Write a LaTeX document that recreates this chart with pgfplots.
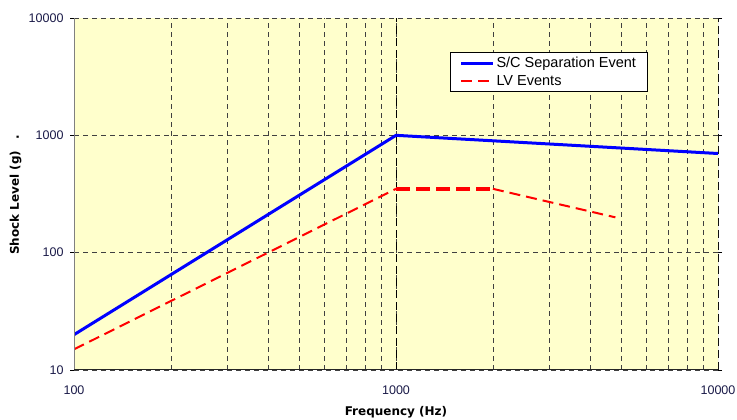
\documentclass[border=0pt]{standalone}
\usepackage{pgfplots}
\pgfplotsset{compat=1.18}
\usepackage{fontspec}
\setmainfont{Liberation Sans}
\newfontfamily\labfont{DejaVu Sans}
\definecolor{bgy}{HTML}{FFFFCC}
\definecolor{gridc}{HTML}{404040}
\definecolor{tickc}{HTML}{1A1A48}
\begin{document}
\begin{tikzpicture}
\path[use as bounding box] (-74pt,-50pt) rectangle (663pt,370pt);
\begin{axis}[
  at={(0pt,0pt)}, anchor=south west,
  scale only axis, width=644pt, height=352pt,
  xmode=log, ymode=log,
  xmin=100, xmax=10000, ymin=10, ymax=10000,
  axis background/.style={fill=bgy},
  axis line style={draw=none},
  xtick={100,1000,10000}, xticklabels={100,1000,10000},
  ytick={10,100,1000,10000}, yticklabels={10,100,1000,10000},
  minor ytick={},
  xmajorgrids, xminorgrids, ymajorgrids,
  major x grid style={black, dash pattern=on 8pt off 4pt, line width=0.6pt},
  minor x grid style={gridc, dash pattern=on 5pt off 4pt, line width=0.6pt},
  major y grid style={gridc, dash pattern=on 5pt off 4pt, line width=0.6pt},
  tick align=outside, major tick length=4pt, minor tick length=0pt,
  tick style={black, line width=0.6pt},
  xtick style={draw=none},
  ticklabel style={font=\fontsize{12.5}{14}\selectfont, text=tickc},
  /pgf/number format/assume math mode=true,
  xticklabel style={yshift=-8pt},
  yticklabel style={xshift=-3pt},
  xlabel={\labfont\bfseries Frequency (Hz)},
  ylabel={\labfont\bfseries Shock Level (g)\hspace{0.9em}.},
  label style={font=\fontsize{12}{14}\selectfont},
  xlabel style={at={(axis description cs:0.5,0)}, anchor=north, yshift=-33pt},
  ylabel style={at={(axis description cs:0,0.5)}, anchor=south, yshift=49pt, xshift=-1pt},
  legend style={at={(rel axis cs:0.584,0.903)}, anchor=north west,
    draw=black, line width=0.8pt, fill=white,
    font=\fontsize{14.5}{16}\selectfont, inner xsep=9pt, inner ysep=2.5pt, row sep=2.5pt,
    legend cell align=left},
  legend image code/.code={\draw[#1] (0pt,0pt) -- (32pt,0pt);},
]
\addplot[blue, line width=3pt] coordinates {(100,20) (1000,1000) (10000,700)};
\addlegendentry{S/C Separation Event}
\addplot[red, line width=2pt, dash pattern=on 11pt off 6pt] coordinates {(100,15) (1000,350)};
\addlegendentry{LV Events}
\addplot[red, line width=4pt, dash pattern=on 14pt off 6pt, forget plot] coordinates {(1000,350) (2000,350)};
\addplot[red, line width=2pt, dash pattern=on 11pt off 6pt, forget plot] coordinates {(2000,350) (4800,200)};
\draw[gray, line width=1pt] (rel axis cs:0,0) -- (rel axis cs:0,1);
\draw[gray, line width=0.8pt] (rel axis cs:1,0) -- (rel axis cs:1,1);
\draw[black!85, line width=1pt] (rel axis cs:0,0) -- (rel axis cs:1,0);
\end{axis}
\end{tikzpicture}
\end{document}
